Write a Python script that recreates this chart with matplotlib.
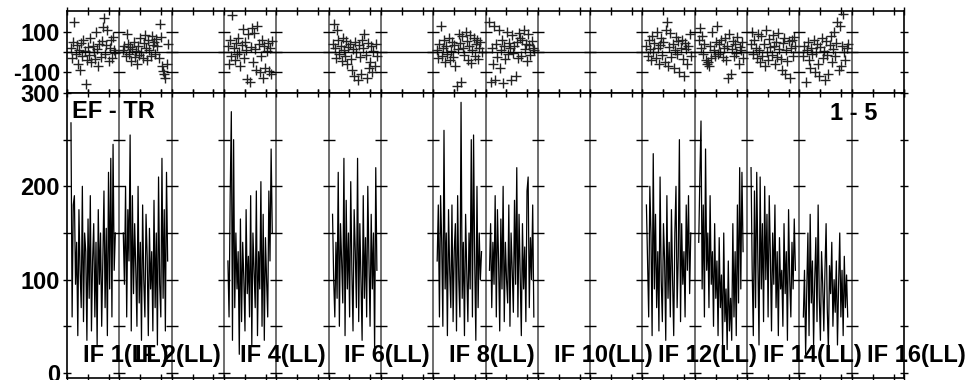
import numpy as np
import matplotlib.pyplot as plt

plt.rcParams['font.family'] = ['Liberation Sans', 'DejaVu Sans']
plt.rcParams['font.weight'] = 'bold'
plt.rcParams['axes.unicode_minus'] = False

N_IF = 16
CHANNELS = np.arange(1, 41)
BASELINE = 'EF - TR'
STOKES = 'LL'
TIMERANGE = '1 - 5'
LABELLED_IFS = [1, 2, 4, 6, 8, 10, 12, 14, 16]

# amplitude per channel (only IFs with data)
AMP_IF1 = [268, 60, 180, 190, 95, 140, 40, 175, 110, 70, 200, 55, 150, 130, 35, 165, 80, 190, 45, 120,
           160, 60, 140, 30, 175, 95, 150, 50, 120, 195, 70, 155, 40, 215, 90, 230, 60, 245, 110, 150]
AMP_IF2 = [150, 95, 200, 60, 175, 120, 255, 45, 190, 85, 160, 110, 50, 200, 75, 140, 35, 180, 100, 60,
           170, 125, 40, 155, 90, 130, 45, 185, 70, 150, 30, 210, 95, 60, 230, 80, 175, 45, 215, 120]
AMP_IF4 = [120, 60, 190, 280, 35, 250, 70, 150, 90, 130, 20, 165, 55, 140, 100, 45, 175, 85, 125, 60,
           190, 30, 150, 110, 70, 195, 40, 130, 90, 205, 50, 170, 35, 145, 100, 60, 195, 120, 240, 150]
AMP_IF6 = [170, 100, 60, 140, 80, 215, 50, 160, 120, 75, 230, 40, 185, 90, 150, 60, 205, 110, 45, 175,
           130, 70, 230, 55, 160, 100, 35, 190, 80, 145, 60, 200, 120, 50, 170, 90, 150, 25, 220, 110]
AMP_IF8 = [120, 180, 60, 190, 140, 50, 260, 90, 150, 40, 175, 110, 70, 180, 55, 130, 160, 45, 190, 100,
           60, 290, 80, 140, 40, 170, 110, 55, 150, 90, 250, 60, 255, 120, 35, 200, 70, 150, 100, 130]
AMP_IF9 = [110, 160, 70, 140, 95, 190, 60, 175, 120, 45, 165, 90, 200, 55, 140, 100, 75, 180, 50, 150,
           110, 65, 185, 95, 220, 60, 170, 105, 40, 160, 90, 135, 55, 195, 210, 70, 145, 100, 180, 60]
AMP_IF12 = [180, 120, 60, 200, 150, 40, 235, 90, 170, 70, 130, 45, 210, 100, 55, 160, 120, 35, 190, 80,
            140, 60, 175, 100, 40, 150, 200, 70, 125, 250, 55, 160, 95, 130, 60, 180, 110, 190, 85, 150]
AMP_IF13 = [140, 210, 270, 90, 180, 60, 240, 110, 150, 70, 190, 95, 130, 50, 160, 80, 120, 40, 145, 70,
            105, 30, 150, 55, 90, 25, 120, 45, 80, 35, 160, 60, 130, 40, 180, 75, 220, 90, 215, 130]
AMP_IF14 = [220, 110, 40, 195, 70, 215, 120, 30, 210, 90, 160, 55, 200, 100, 170, 60, 190, 125, 45, 150,
            95, 180, 70, 130, 40, 145, 90, 110, 50, 160, 85, 130, 35, 175, 100, 60, 140, 90, 165, 110]
AMP_IF15 = [60, 110, 20, 90, 150, 40, 170, 75, 120, 30, 100, 145, 55, 180, 80, 35, 130, 95, 45, 110,
            160, 70, 25, 115, 85, 140, 50, 100, 65, 120, 30, 95, 150, 60, 110, 40, 125, 70, 105, 60]

# phase per channel (degrees)
PHS_IF1 = [20, -30, 50, 150, -10, 35, -60, 10, -90, 45, -20, 60, 5, -160, -40, 25, -15, 70, -50, 30,
           0, -35, 100, 15, -70, 40, -25, 55, 125, 170, -10, 35, 110, -45, 20, 60, -30, 75, 10, -5]
PHS_IF2 = [10, 30, -20, 90, 40, -10, 25, -45, 15, 50, -25, 5, -60, 30, -15, 70, 0, -30, 45, 85,
           20, -40, 60, 10, -20, 80, 35, 50, -10, 65, 30, -30, 140, 75, -70, -95, -110, -130, -60, 40]
PHS_IF4 = [30, -60, 60, -20, 185, 20, -40, 45, -10, 70, 0, -70, 35, 115, -30, 50, 10, -135, 90, -150,
           25, 120, -50, 95, 15, -90, 130, 40, -100, -20, 60, -130, 30, -80, 5, 45, -95, 20, -110, 55]
PHS_IF6 = [40, 140, 20, -30, 110, 60, -10, 30, -45, 70, 10, -20, 55, -60, 25, 40, -35, -90, 15, -120,
           50, 0, -140, 35, -25, -110, 60, 20, 90, -15, -130, 45, -80, -50, 30, -100, 5, -70, 40, -20]
PHS_IF8 = [10, -30, 40, 130, -20, 20, 60, -50, 30, -10, 70, -40, 5, 50, -25, 35, -70, -170, 15, 90,
           45, -150, 80, 20, -15, 100, 55, -40, 30, 85, -55, 10, 70, -20, 40, 60, -35, 20, 50, 0]
PHS_IF9 = [150, -150, 20, -60, 130, -140, 40, -25, 110, -80, 10, 60, -155, 30, -35, 100, -10, 45, 20, -140,
           85, -5, 30, -120, 50, -30, 95, 70, -20, 60, 110, 15, 40, -45, 90, 35, -15, 55, 20, 10]
PHS_IF12 = [30, -20, 60, 15, -40, 80, 0, 45, -30, 100, 20, -60, 35, 70, -15, 50, -50, 110, 150, -70,
            25, 95, -25, 40, -80, 10, 75, -10, 55, -100, 20, 60, -35, -120, 45, 15, -60, 30, 90, -20]
PHS_IF13 = [60, 120, 20, 80, -10, 40, -40, -60, -50, -70, 30, -30, 100, 10, -20, 50, 130, -10, 40, 0,
            60, -25, 20, 70, -40, 30, -130, 90, -110, 15, 55, -20, 40, -5, 75, -60, 25, 10, 50, -30]
PHS_IF14 = [40, 100, -10, 60, 20, -30, 90, 10, -50, 80, -20, 40, -70, 110, 0, -40, 65, 25, -15, 85,
            30, -60, 50, -25, 95, 15, -35, -90, 45, 70, -110, 10, -45, 55, -130, 20, 60, -20, 75, 30]
PHS_IF15 = [-20, 30, -150, 10, 50, -40, -80, 20, -10, 60, -100, 0, 40, -60, -120, 25, 70, -30, 5, -140,
            55, -15, -110, 35, 80, -50, 15, 100, -20, 45, 150, -90, 130, -70, 30, 190, 0, -40, 20, 40]

DATA = {
    1: (AMP_IF1, PHS_IF1), 2: (AMP_IF2, PHS_IF2), 4: (AMP_IF4, PHS_IF4),
    6: (AMP_IF6, PHS_IF6), 8: (AMP_IF8, PHS_IF8), 9: (AMP_IF9, PHS_IF9),
    12: (AMP_IF12, PHS_IF12), 13: (AMP_IF13, PHS_IF13),
    14: (AMP_IF14, PHS_IF14), 15: (AMP_IF15, PHS_IF15),
}

W, H = 969, 380
fig = plt.figure(figsize=(W / 100, H / 100), dpi=100)
ax_ph = fig.add_axes([67 / W, 1 - 93 / H, 837 / W, 82 / H])
ax_amp = fig.add_axes([67 / W, 1 - 378 / H, 837 / W, 285 / H])

for ifnum, (amp, phs) in DATA.items():
    x = ifnum - 1 + (CHANNELS + 2.5) / 46.0
    ax_amp.plot(x, amp, '-', color='k', lw=0.9)
    ax_ph.plot(x, phs, '+', color='#222222', ms=6.5, mew=1.0)

xt = [k + f for k in range(N_IF) for f in (0, 0.4, 0.8)] + [N_IF]
for ax, ylim, yt, yminor in ((ax_ph, (-205, 205), [-100, 100], [-100, 0, 100]),
                             (ax_amp, (-5.4, 300), [0, 100, 200, 300], [0, 50, 100, 150, 200, 250])):
    ax.set_xlim(0, N_IF)
    ax.set_ylim(*ylim)
    for k in range(1, N_IF):
        ax.axvline(k, color='#555555', lw=1.2, zorder=1)
        ax.plot([k] * len(yminor), yminor, '_', color='k', ms=8, mew=1, zorder=2)
    ax.set_xticks(xt)
    ax.set_xticklabels([])
    ax.set_yticks(yt)
    ax.set_yticks([v for v in yminor if v not in yt], minor=True)
    ax.tick_params(axis='x', which='both', direction='inout', length=6, width=1,
                   top=True, bottom=True)
    ax.tick_params(axis='y', which='both', direction='inout', length=6, width=1,
                   left=True, right=True, labelsize=17, pad=2)
    for s in ax.spines.values():
        s.set_linewidth(1.2)

ax_ph.axhline(0, color='k', lw=1)

ax_amp.text(0.1, 273, BASELINE, fontsize=17, fontweight='bold', va='baseline', ha='left')
ax_amp.text(14.59, 271, TIMERANGE, fontsize=17, fontweight='bold', va='baseline', ha='left')
for ifnum in LABELLED_IFS:
    ax_amp.text(ifnum - 1 + 0.3, 12, f'IF {ifnum}({STOKES})', fontsize=17,
                fontweight='bold', va='baseline', ha='left', clip_on=False)

fig.savefig('out.png', dpi=100)
